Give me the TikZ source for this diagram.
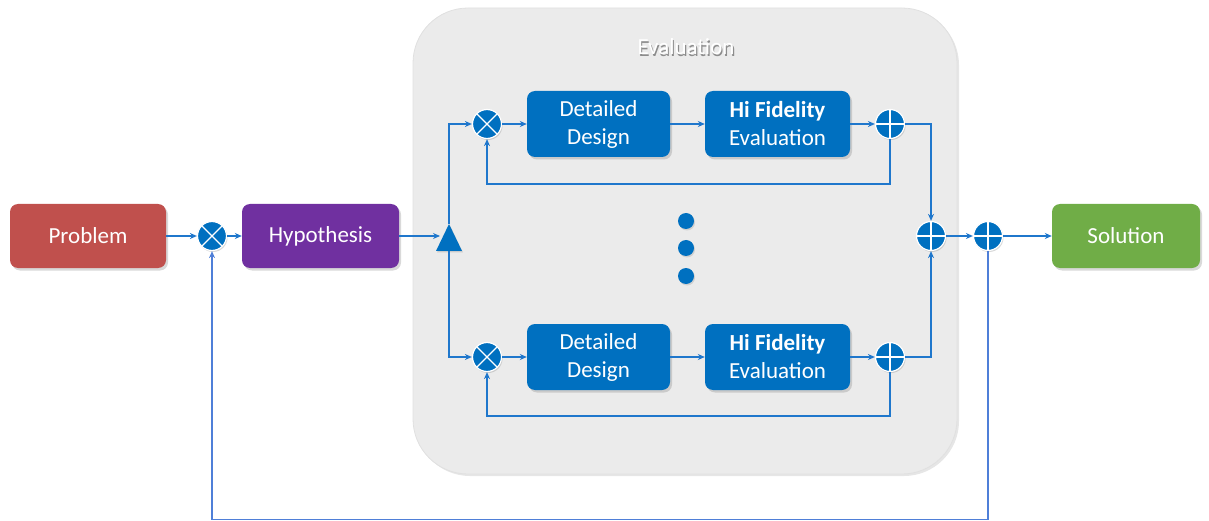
\documentclass[tikz,border=0pt]{standalone}
\usepackage{fontspec}
\setmainfont{Carlito}
\usetikzlibrary{arrows.meta,shadows,calc}
\definecolor{myblue}{HTML}{0070C0}
\definecolor{lineblue}{HTML}{1F77CC}
\definecolor{fbblue}{HTML}{4F7FD8}
\definecolor{probred}{HTML}{C0504D}
\definecolor{hyppurple}{HTML}{7030A0}
\definecolor{solgreen}{HTML}{70AD47}
\definecolor{evalgray}{HTML}{EBEBEB}
\begin{document}
\begin{tikzpicture}[x=1pt,y=-1pt,
  box/.style={rounded corners=8pt, text=white, align=center, inner sep=0pt,
    font=\fontsize{23}{28}\selectfont,
    drop shadow={shadow xshift=2pt, shadow yshift=-2.5pt, opacity=0.3}},
  arr/.style={draw=lineblue, line width=1.3pt, -{Stealth[length=7pt,width=6pt]}},
  sym/.style={circle, fill=myblue, draw=white, line width=1.2pt, minimum size=29pt, inner sep=0pt,
    drop shadow={shadow xshift=1pt, shadow yshift=-1.5pt, opacity=0.3}},
  multsym/.style={sym, path picture={\draw[white, line width=1.2pt]
      (path picture bounding box.north west) -- (path picture bounding box.south east)
      (path picture bounding box.north east) -- (path picture bounding box.south west);}},
  plussym/.style={sym, path picture={\draw[white, line width=1.2pt]
      (path picture bounding box.north) -- (path picture bounding box.south)
      (path picture bounding box.west) -- (path picture bounding box.east);}},
  dotsym/.style={circle, fill=myblue, minimum size=16pt, inner sep=0pt,
    drop shadow={shadow xshift=1pt, shadow yshift=-1.5pt, opacity=0.25}}
]
\useasboundingbox (0,0) rectangle (1209,521);

% Evaluation container
\node[fill=evalgray, draw=black!12, line width=0.8pt, rounded corners=55pt,
  minimum width=544pt, minimum height=466pt,
  drop shadow={shadow xshift=2pt, shadow yshift=-2pt, opacity=0.2}] (eval) at (685,241) {};
\node[text=black!45, font=\fontsize{23}{26}\selectfont] at (687.2,48.8) {Evaluation};
\node[text=white, font=\fontsize{23}{26}\selectfont] (evaltitle) at (686,47) {Evaluation};

% Main boxes
\node[box, fill=probred, minimum width=156pt, minimum height=64pt] (prob) at (88,236) {Problem};
\node[box, fill=hyppurple, minimum width=157pt, minimum height=64pt] (hyp) at (320.5,236) {Hypothesis};
\node[box, fill=solgreen, minimum width=148pt, minimum height=64pt] (sol) at (1126,236) {Solution};

\node[box, fill=myblue, minimum width=143pt, minimum height=66pt] (dd1) at (598.5,124) {Detailed\\Design};
\node[box, fill=myblue, minimum width=145pt, minimum height=66pt] (hf1) at (777.5,124) {\textbf{Hi Fidelity}\\Evaluation};
\node[box, fill=myblue, minimum width=143pt, minimum height=66pt] (dd2) at (598.5,357) {Detailed\\Design};
\node[box, fill=myblue, minimum width=145pt, minimum height=66pt] (hf2) at (777.5,357) {\textbf{Hi Fidelity}\\Evaluation};

% Symbols
\node[multsym] (m0) at (212,236) {};
\node[multsym] (m1) at (487,124) {};
\node[multsym] (m2) at (487,357) {};
\node[plussym] (p1) at (890,124) {};
\node[plussym] (p2) at (890,357) {};
\node[plussym] (pm) at (931,236) {};
\node[plussym] (pr) at (988,236) {};

% Triangle (splitter)
\fill[myblue, drop shadow={shadow xshift=1pt, shadow yshift=-1.5pt, opacity=0.3}]
  (449,224) -- (462,251) -- (436,251) -- cycle;
\coordinate (tritop) at (449,224);
\coordinate (tribot) at (449,251);
\coordinate (trileft) at (440,236);

% Dots
\node[dotsym] (d1) at (686,221) {};
\node[dotsym] (d2) at (686,248) {};
\node[dotsym] (d3) at (686,276) {};

% Connectors
\draw[arr, line width=1.8pt] (prob) -- (m0);
\draw[arr] (m0) -- (hyp);
\draw[arr] (hyp) -- (trileft);
\draw[arr] (tritop) |- (m1);
\draw[arr] (tribot) |- (m2);
\draw[arr] (m1) -- (dd1);
\draw[arr] (dd1) -- (hf1);
\draw[arr] (hf1) -- (p1);
\draw[arr] (m2) -- (dd2);
\draw[arr] (dd2) -- (hf2);
\draw[arr] (hf2) -- (p2);
\draw[arr] (p1.south) -- ++(0,45) -| (m1.south);
\draw[arr] (p2.south) -- ++(0,44) -| (m2.south);
\draw[arr] (p1.east) -| (pm);
\draw[arr] (p2.east) -| (pm);
\draw[arr] (pm) -- (pr);
\draw[arr, line width=1.8pt] (pr) -- (sol);
\draw[arr, draw=fbblue, line width=1.6pt] (pr.south) -- ++(0,268.5) -| (m0.south);
\end{tikzpicture}
\end{document}
